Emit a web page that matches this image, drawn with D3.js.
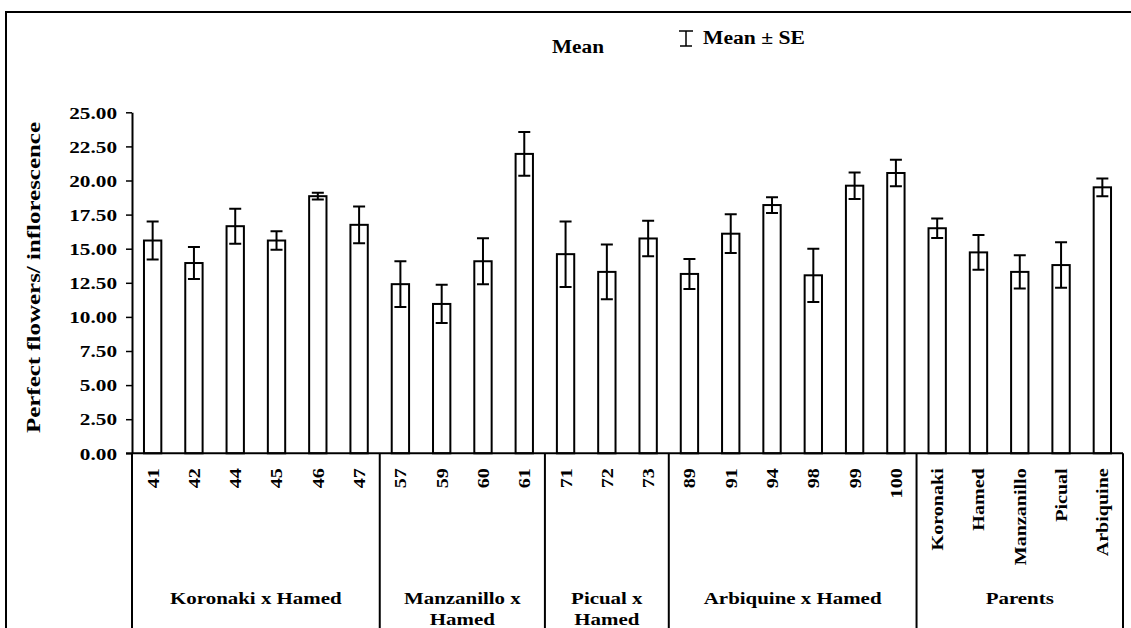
<!DOCTYPE html>
<html>
<head>
<meta charset="utf-8">
<script src="https://cdn.jsdelivr.net/npm/d3@7/dist/d3.min.js"></script>
<style>
  html, body { margin: 0; padding: 0; background: #fff; }
  svg { display: block; }
  text { font-family: "Liberation Serif", "Times New Roman", serif; font-weight: bold; fill: #000; }
</style>
</head>
<body>
<svg id="chart" width="1131" height="628"></svg>
<script>
// Genotypes (x categories) and their group membership
const genotypes = ["41","42","44","45","46","47",
                   "57","59","60","61",
                   "71","72","73",
                   "89","91","94","98","99","100",
                   "Koronaki","Hamed","Manzanillo","Picual","Arbiquine"];
// Mean number of perfect flowers per inflorescence
const meanValues = [15.6, 13.95, 16.65, 15.6, 18.85, 16.75,
                    12.4, 10.95, 14.08, 21.95,
                    14.6, 13.3, 15.75,
                    13.15, 16.1, 18.2, 13.05, 19.62, 20.55,
                    16.5, 14.73, 13.3, 13.8, 19.5];
// Standard error of each mean
const seValues = [1.4, 1.17, 1.28, 0.68, 0.25, 1.35,
                  1.68, 1.4, 1.68, 1.6,
                  2.4, 2.0, 1.3,
                  1.1, 1.42, 0.58, 1.95, 0.97, 0.98,
                  0.71, 1.28, 1.22, 1.67, 0.65];
// Cross groups: label lines and number of genotypes in each
const groupLabels = [["Koronaki x Hamed"], ["Manzanillo x", "Hamed"], ["Picual x", "Hamed"],
                     ["Arbiquine x Hamed"], ["Parents"]];
const groupSizes = [6, 4, 3, 6, 5];
const yTicks = [0, 2.5, 5, 7.5, 10, 12.5, 15, 17.5, 20, 22.5, 25];
const yTitle = "Perfect flowers/ inflorescence";
const legendMean = "Mean";
const legendSE = "Mean \u00b1 SE";

const svg = d3.select("#chart");
const plot = { left: 132, right: 1123, top: 112.3, bottom: 453.3 };
const ink = "#000";

// Stretch text along its baseline (the typeface is set wide)
function widen(sel, k) {
  sel.each(function () {
    const len = this.getComputedTextLength();
    d3.select(this).attr("textLength", len * k).attr("lengthAdjust", "spacingAndGlyphs");
  });
}

// Outer frame (left and top edges)
svg.append("path")
  .attr("d", `M6,628 V12 H1131`)
  .attr("fill", "none").attr("stroke", ink).attr("stroke-width", 2);

const x = d3.scaleBand()
  .domain(genotypes)
  .range([plot.left, plot.right])
  .paddingInner(0.58)
  .paddingOuter(0.29);

const y = d3.scaleLinear().domain([0, 25]).range([plot.bottom, plot.top]);

// Y axis
const yAxis = svg.append("g")
  .attr("transform", `translate(${plot.left},0)`)
  .call(d3.axisLeft(y).tickValues(yTicks).tickFormat(d3.format(".2f")).tickSize(6).tickSizeOuter(0));
yAxis.select(".domain").attr("stroke", ink).attr("stroke-width", 2);
yAxis.selectAll(".tick line").attr("stroke", ink).attr("stroke-width", 1.5);
yAxis.selectAll(".tick text")
  .attr("x", -15).attr("dy", "0.34em")
  .style("font-family", "Liberation Serif, serif").style("font-weight", "bold").style("font-size", "17px")
  .call(widen, 1.25);

// Y axis title
svg.append("text")
  .attr("transform", `translate(40,277.5) rotate(-90)`)
  .attr("text-anchor", "middle")
  .style("font-size", "19px")
  .text(yTitle)
  .attr("textLength", 311).attr("lengthAdjust", "spacingAndGlyphs");

// Bars
const barData = genotypes.map((g, i) => ({ g, m: meanValues[i], se: seValues[i] }));
svg.append("g").selectAll("rect")
  .data(barData).join("rect")
  .attr("x", d => x(d.g))
  .attr("y", d => y(d.m))
  .attr("width", x.bandwidth())
  .attr("height", d => y(0) - y(d.m))
  .attr("fill", "#fff").attr("stroke", ink).attr("stroke-width", 2);

// Error bars (mean ± SE)
const capHalf = 6;
const eb = svg.append("g").attr("stroke", ink).attr("stroke-width", 2).attr("fill", "none");
eb.selectAll("path")
  .data(barData).join("path")
  .attr("d", d => {
    const cx = x(d.g) + x.bandwidth() / 2;
    const t = y(d.m + d.se), b = y(d.m - d.se);
    return `M${cx - capHalf},${t} H${cx + capHalf} M${cx},${t} V${b} M${cx - capHalf},${b} H${cx + capHalf}`;
  });

// X axis baseline with genotype labels
const xAxis = svg.append("g")
  .attr("transform", `translate(0,${plot.bottom})`)
  .call(d3.axisBottom(x).tickSize(0).tickSizeOuter(0));
xAxis.select(".domain").attr("stroke", ink).attr("stroke-width", 2)
  .attr("d", `M${plot.left - 6},0 H${plot.right}`);
xAxis.selectAll(".tick text")
  .attr("transform", "rotate(-90)")
  .attr("x", -15).attr("y", 0).attr("dy", "0.35em")
  .attr("text-anchor", "end")
  .style("font-family", "Liberation Serif, serif").style("font-weight", "bold").style("font-size", "17px")
  .call(widen, 1.18);

// Group separators and group names below the axis
const step = x.step();
let start = 0;
const bounds = [0];
groupSizes.forEach(n => { start += n; bounds.push(start); });
const edgeX = i => plot.left + i * step;
svg.append("g").selectAll("line")
  .data(bounds).join("line")
  .attr("x1", d => edgeX(d)).attr("x2", d => edgeX(d))
  .attr("y1", plot.bottom).attr("y2", 640)
  .attr("stroke", ink).attr("stroke-width", 2);

const gl = svg.append("g").selectAll("text")
  .data(groupLabels.map((lines, i) => ({ lines, cx: (edgeX(bounds[i]) + edgeX(bounds[i + 1])) / 2 })))
  .join("text")
  .attr("text-anchor", "middle")
  .style("font-size", "17px");
gl.each(function (d) {
  const t = d3.select(this);
  d.lines.forEach((line, j) => {
    t.append("tspan").attr("x", d.cx).attr("y", 604 + j * 21).text(line);
  });
});
gl.selectAll("tspan").call(widen, 1.23);

// Legend
svg.append("text").attr("x", 552).attr("y", 53).style("font-size", "18px").text(legendMean)
  .attr("textLength", 52).attr("lengthAdjust", "spacingAndGlyphs");
svg.append("text").attr("x", 703).attr("y", 44).style("font-size", "18px").text(legendSE)
  .attr("textLength", 102).attr("lengthAdjust", "spacingAndGlyphs");
svg.append("path")
  .attr("d", "M679,31 H693 M686,31 V46 M680,46 H692")
  .attr("fill", "none").attr("stroke", ink).attr("stroke-width", 1.5);
</script>
</body>
</html>
